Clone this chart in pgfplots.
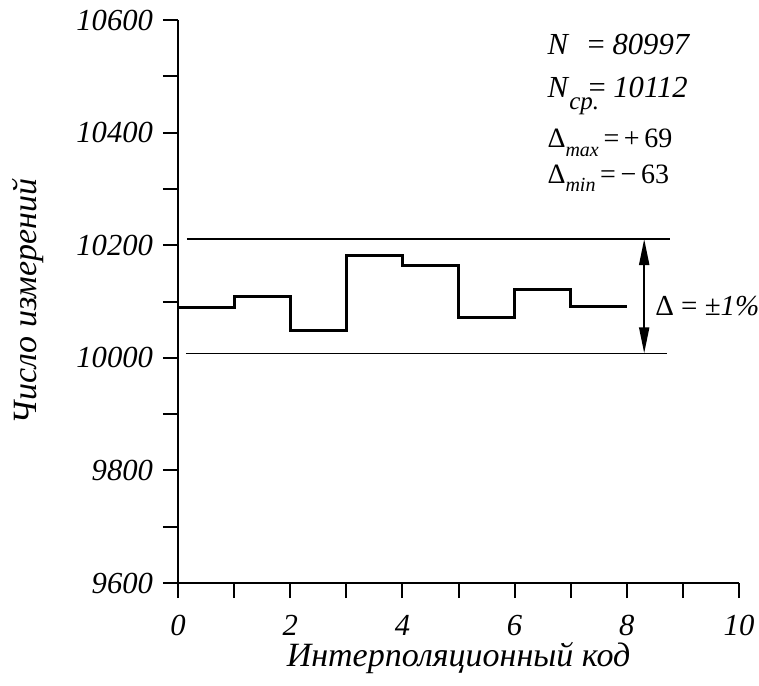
\documentclass[border=0pt]{standalone}
\usepackage{fontspec}
\setmainfont{Liberation Serif}
\usepackage{pgfplots}
\pgfplotsset{compat=1.18}
\usetikzlibrary{arrows.meta}

% step levels
\pgfplotstableread{
x   n
0   10089
1   10108
2   10049
3   10181
4   10164
5   10071
6   10122
7   10092
8   10092
}\steps

\begin{document}
\begin{tikzpicture}
\begin{axis}[
  at={(0,0)},anchor=south west,
  scale only axis,width=280.5pt,height=281.5pt,
  xmin=0,xmax=10,ymin=9600,ymax=10600,
  axis lines=left,axis line style={-,line width=1pt},
  scaled y ticks=false,scaled x ticks=false,
  xtick={0,1,2,3,4,5,6,7,8,9,10},
  xticklabels={0,,2,,4,,6,,8,,10},
  ytick={9600,9700,9800,9900,10000,10100,10200,10300,10400,10500,10600},
  yticklabels={9600,,9800,,10000,,10200,,10400,,10600},
  tick align=outside,major tick length=7.5pt,
  tick style={line width=1pt,black},
  tick label style={font=\fontsize{15.3}{18}\selectfont\itshape},
  xticklabel style={yshift=-5pt},
  yticklabel style={xshift=-1.5pt},
  xlabel={Интерполяционный код},
  ylabel={Число измерений},
  label style={font=\fontsize{17}{20}\selectfont\itshape},
  xlabel style={at={(axis description cs:0.5,-0.133)},anchor=center},
  ylabel style={at={(axis description cs:-0.267,0.5)},anchor=center},
  clip=false,
]
\addplot[const plot,line width=1.5pt,black] table[x=x,y=n] {\steps};
\addplot[line width=0.6pt,black] coordinates {(0.16,10211) (8.77,10211)};
\addplot[line width=0.6pt,black] coordinates {(0.14,10008) (8.72,10008)};
\addplot[line width=1pt,black,
  {Triangle[length=13pt,width=5pt]}-{Triangle[length=13pt,width=5pt]}]
  coordinates {(8.31,10211) (8.31,10008)};

\node[anchor=base west,inner sep=0pt,font=\fontsize{15.3}{18}\selectfont]
  at (axis cs:6.58,10538) {\textit{N}\hspace{0.6em}= \textit{80997}};
\node[anchor=base west,inner sep=0pt,font=\fontsize{15.3}{18}\selectfont]
  at (axis cs:6.58,10463) {\textit{N}\raisebox{-0.4em}{\fontsize{12.5}{14}\selectfont\textit{cp.}}\hspace{-0.35em}= \textit{10112}};
\node[anchor=base west,inner sep=0pt,font=\fontsize{14}{16}\selectfont]
  at (axis cs:6.58,10373) {Δ\raisebox{-0.3em}{\fontsize{10}{12}\selectfont\textit{max}}\,=\,+\,69};
\node[anchor=base west,inner sep=0pt,font=\fontsize{14}{16}\selectfont]
  at (axis cs:6.58,10310) {Δ\raisebox{-0.3em}{\fontsize{10}{12}\selectfont\textit{min}}\,=\,−\,63};
\node[anchor=base west,inner sep=0pt,font=\fontsize{14.5}{17}\selectfont]
  at (axis cs:8.50,10076) {Δ = ±\textit{1\%}};
\end{axis}
\pgfresetboundingbox
\path[use as bounding box] (-89pt,-51pt) rectangle (290.5pt,291.5pt);
\end{tikzpicture}
\end{document}
